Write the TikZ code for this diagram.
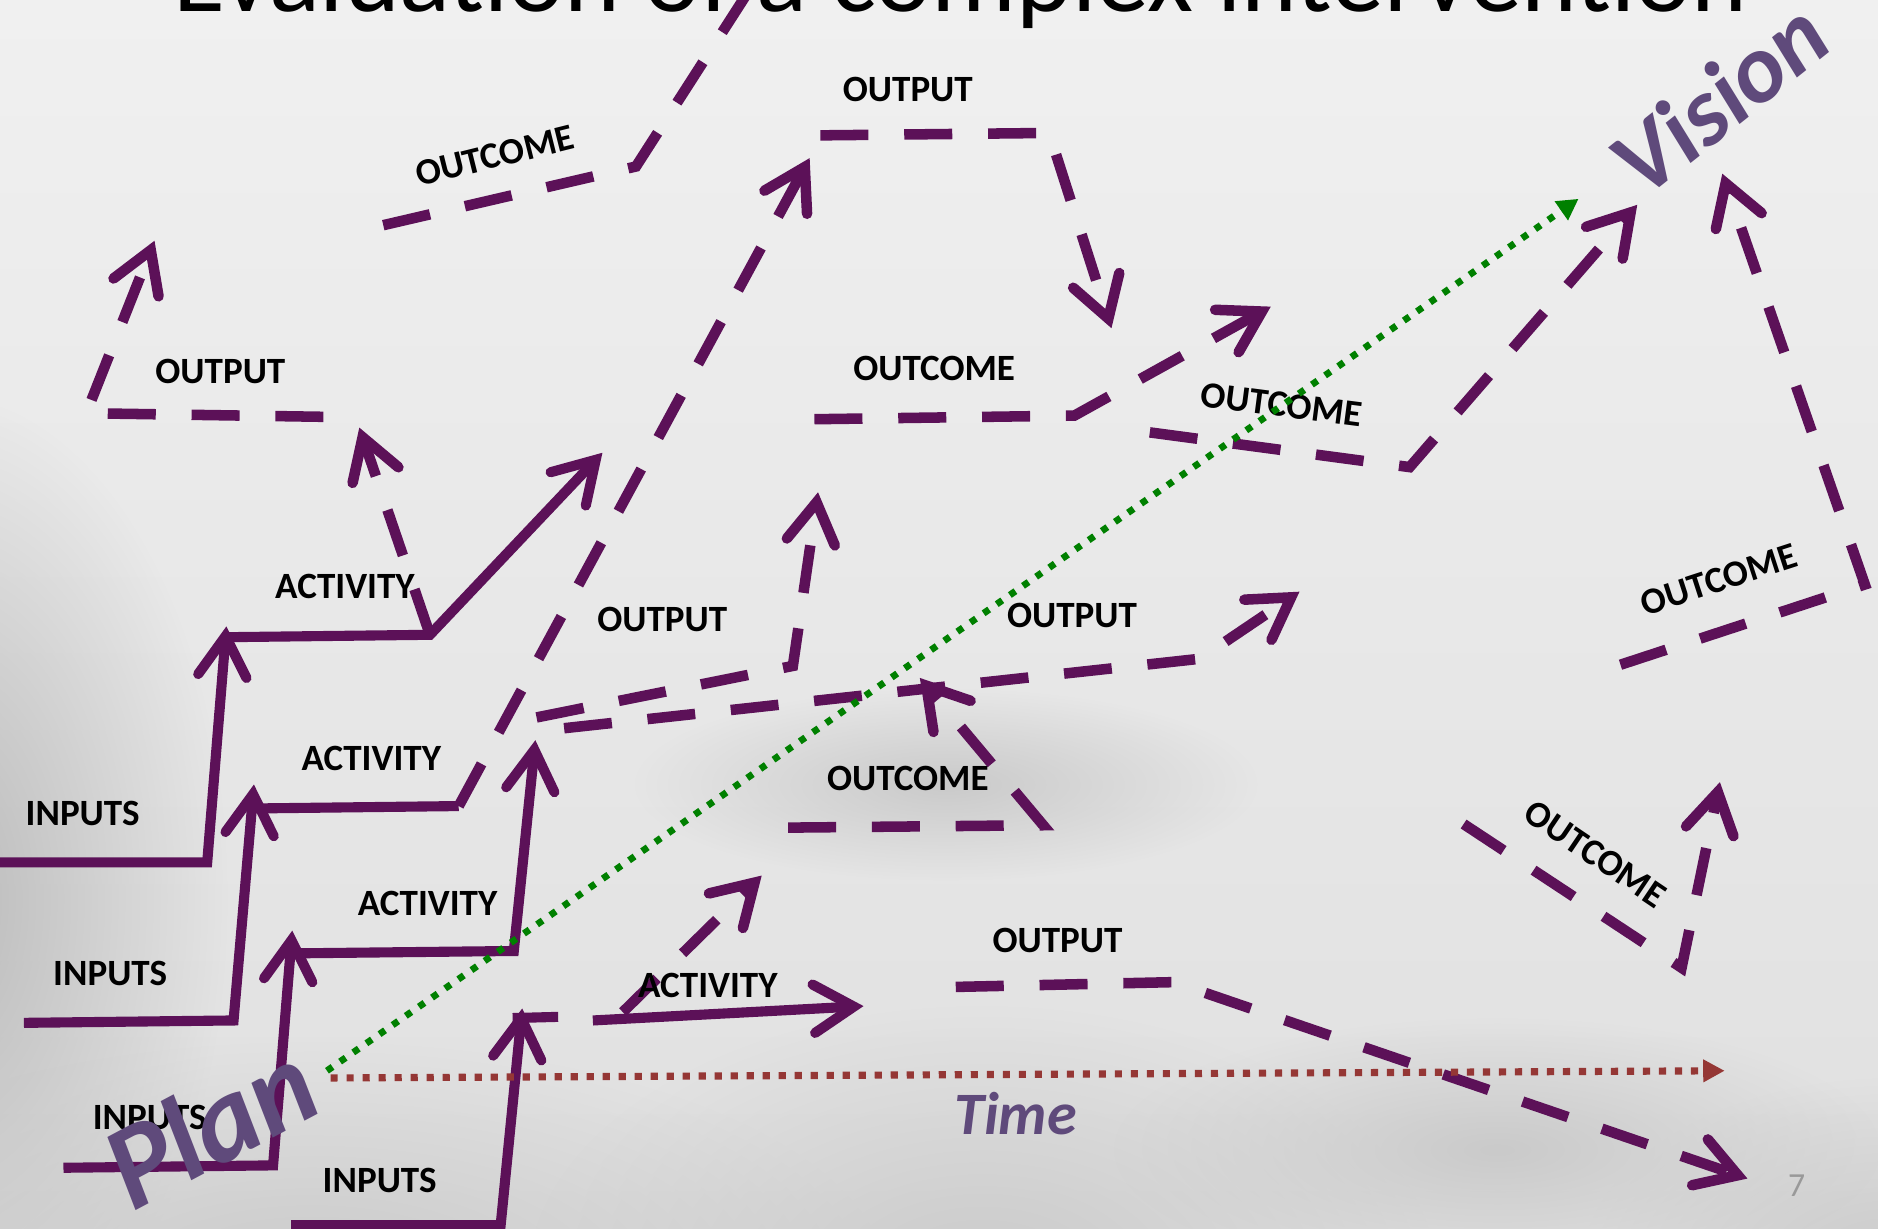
\documentclass[tikz,border=0pt]{standalone}
\usepackage{fontspec}
\setmainfont{Carlito}
\usetikzlibrary{arrows.meta,fadings}
\tikzfading[name=softblob, inner color=transparent!0, outer color=transparent!100]
\definecolor{lnpurple}{RGB}{92,17,88}
\definecolor{txtpurple}{RGB}{95,74,123}
\definecolor{dotgreen}{RGB}{0,128,0}
\definecolor{dotbrown}{RGB}{149,55,53}
\definecolor{bgtop}{RGB}{240,240,240}
\definecolor{bgbot}{RGB}{224,224,224}
\definecolor{cloudA}{RGB}{186,186,186}
\definecolor{cloudB}{RGB}{202,202,202}
\tikzset{
  solidln/.style={draw=lnpurple, line width=2.4pt, line join=miter},
  dashln/.style={draw=lnpurple, line width=2.5pt, dash pattern=on 11.4pt off 8.5pt},
  barb/.style={-{Straight Barb[length=9.5pt,width=11.5pt,line cap=round]}},
  lbl/.style={font=\bfseries\fontsize{8.8pt}{10pt}\selectfont, inner sep=0pt, text=black},
  bigtxt/.style={font=\bfseries\itshape\fontsize{#1}{#1}\selectfont, text=txtpurple, inner sep=0pt},
  cloud/.style={fill=#1, path fading=softblob},
}
\begin{document}
\begin{tikzpicture}[x=0.01cm,y=-0.01cm]
\useasboundingbox (0,0) rectangle (1568,1026);
\clip (0,0) rectangle (1568,1026);
% background
\shade[top color=bgtop, bottom color=bgbot] (0,0) rectangle (1568,1026);
\fill[cloud=cloudA] (-50,750) ellipse [x radius=240, y radius=420];
\fill[cloud=cloudB] (260,1070) ellipse [x radius=480, y radius=200];
\fill[cloud=cloudB] (820,1070) ellipse [x radius=380, y radius=230];
\fill[cloud=cloudB] (790,655) ellipse [x radius=260, y radius=80];
\fill[cloud=cloudB] (1580,1060) ellipse [x radius=260, y radius=160];
\fill[cloud=cloudB] (1250,960) ellipse [x radius=320, y radius=110];

% title (cut by the top edge)
\node[font=\fontsize{25.2pt}{26pt}\selectfont, anchor=base, inner sep=0pt] (title) at (802,10) {Evaluation of a complex intervention};

% chain 1
\draw[solidln, barb] (0,720) -- (173,720) -- (189,523);
\draw[solidln, barb] (189,532) -- (359,530) -- (503,378);
\draw[dashln, barb] (359,530) -- (300,357);
\draw[dashln, barb] (270,348) -- (72,345) -- (129,201);
% chain 2
\draw[solidln, barb] (20,854) -- (195,852) -- (212,655);
\draw[solidln] (212,675) -- (383,673);
\draw[dashln, barb] (383,673) -- (676,132);
\draw[dashln, barb] (685,113) -- (876,111) -- (928,274);
% chain 3
\draw[solidln, barb] (53,975) -- (228,973) -- (244,777);
\draw[solidln, barb] (244,796) -- (429,794) -- (447,618);
\draw[dashln, barb] (448,599) -- (662,556) -- (683,411);
\draw[dashln, barb] (471,608) -- (1002,550) -- (1085,494);
% chain 4
\draw[solidln, barb] (243,1023) -- (418,1023) -- (436,842);
\draw[solidln] (428,850) -- (466,849);
\draw[solidln, barb] (495,852) -- (721,840);
\draw[dashln, barb] (520,845) -- (636,731);
% other dashed paths
\draw[dashln] (320,188) -- (531,139) -- (628,-12);
\draw[dashln, barb] (680,350) -- (897,347) -- (1061,256);
\draw[dashln, barb] (960,361) -- (1177,390) -- (1367,171);
\draw[dashln, barb] (658,691) -- (871,689) -- (768,566);
\draw[dashln, barb] (798,824) -- (980,820) -- (1459,984);
\draw[dashln, barb] (1353,555) -- (1557,488) -- (1438,145);
\draw[dashln, barb] (1222,688) -- (1404,808) -- (1436,653);

% labels
\node[lbl] (in1) at (69,679) {INPUTS};
\node[lbl] (in2) at (92,813) {INPUTS};
\node[lbl] (in3) at (125,933) {INPUTS};
\node[lbl] (in4) at (317,986) {INPUTS};
\node[lbl] (ac1) at (288,490) {ACTIVITY};
\node[lbl] (ac2) at (310,633) {ACTIVITY};
\node[lbl] (ac3) at (357,754) {ACTIVITY};
\node[lbl] (ac4) at (591,823) {ACTIVITY};
\node[lbl] (op1) at (184,310) {OUTPUT};
\node[lbl] (op2) at (758,75) {OUTPUT};
\node[lbl] (op3) at (553,517) {OUTPUT};
\node[lbl] (op4) at (895,514) {OUTPUT};
\node[lbl] (op5) at (883,785) {OUTPUT};
\node[lbl, rotate=14] (oc1) at (413,130) {OUTCOME};
\node[lbl] (oc2) at (780,308) {OUTCOME};
\node[lbl, rotate=-7.4] (oc3) at (1070,338) {OUTCOME};
\node[lbl] (oc4) at (758,650) {OUTCOME};
\node[lbl, rotate=18] (oc5) at (1435,484) {OUTCOME};
\node[lbl, rotate=-34] (oc6) at (1332,713) {OUTCOME};

% plan line and time line
\draw[dotgreen, line width=1.6pt, dash pattern=on 1.6pt off 2.2pt, -{Triangle[length=5pt,width=5.2pt]}] (273,894) -- (1318,166);
\draw[dotbrown, line width=1.7pt, dash pattern=on 1.7pt off 2.1pt, -{Triangle[length=5.1pt,width=5.1pt]}] (276,900) -- (1440,894);

% big words
\node[bigtxt=14.3pt] (time) at (848,930) {Time};
\node[bigtxt=28.5pt, rotate=28, anchor=base west] (plan) at (110,1013) {Plan};
\node[bigtxt=23pt, rotate=38.5, anchor=base west] (vision) at (1372,168) {Vision};
\node[font=\fontsize{8pt}{9pt}\selectfont, text=black!40, inner sep=0pt] (pg) at (1500,990) {7};
\end{tikzpicture}
\end{document}
